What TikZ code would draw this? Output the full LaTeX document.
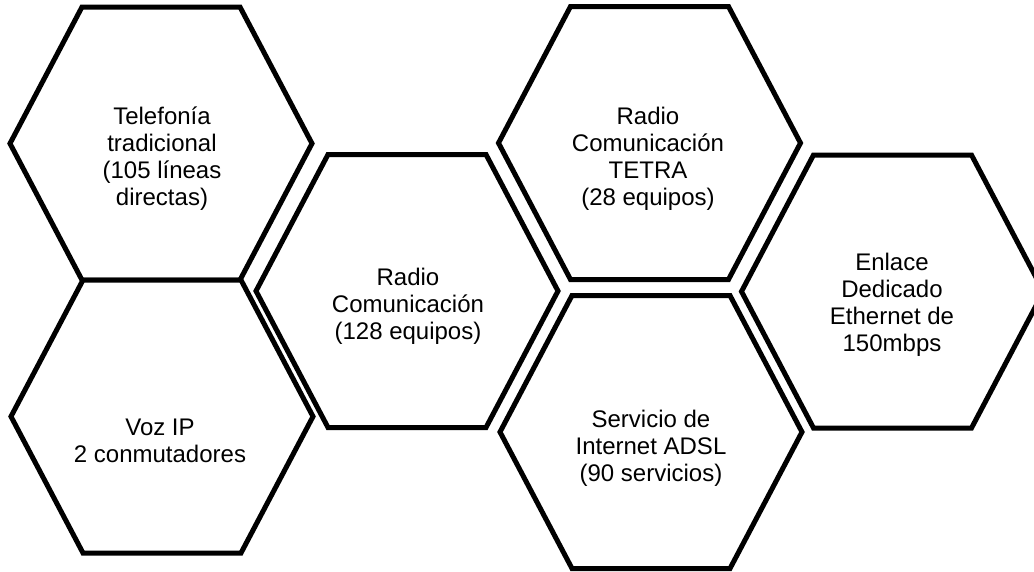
\documentclass[tikz,border=0pt]{standalone}
\usepackage{fontspec}
\setmainfont{Liberation Sans}
\tikzset{
  hexline/.style={draw=black, line width=5pt, line join=miter, fill=white},
  hextext/.style={align=center, inner sep=0pt, font=\fontsize{24}{27}\selectfont, text=black}
}
\newcommand{\hexcell}[3]{%
  \draw[hexline] ({#1-151},{#2}) -- ({#1-79},{#2-136.5}) -- ({#1+79},{#2-136.5})
    -- ({#1+151},{#2}) -- ({#1+79},{#2+136.5}) -- ({#1-79},{#2+136.5}) -- cycle;
  \coordinate (#3) at (#1,#2);
}
\begin{document}
\begin{tikzpicture}[x=1pt,y=-1pt]
\useasboundingbox (0,0) rectangle (1034,571);
\clip (0,0) rectangle (1034,571);
\fill[white] (0,0) rectangle (1034,571);
\hexcell{161}{143.5}{h1}
\hexcell{162}{416.5}{h2}
\hexcell{407}{291}{h3}
\hexcell{649.5}{143}{h4}
\hexcell{651}{432}{h5}
\hexcell{892.5}{291.5}{h6}
\node[hextext] (t1) at (162,159) {Telefonía\\tradicional\\(105 líneas\\directas)};
\node[hextext] (t2) at (160,441) {Voz IP\\2 conmutadores};
\node[hextext] (t3) at (408,306) {Radio\\Comunicación\\(128 equipos)};
\node[hextext] (t4) at (648,159) {Radio\\Comunicación\\TETRA\\(28 equipos)};
\node[hextext] (t5) at (651,448) {Servicio de\\Internet ADSL\\(90 servicios)};
\node[hextext] (t6) at (892,305) {Enlace\\Dedicado\\Ethernet de\\150mbps};
\end{tikzpicture}
\end{document}
